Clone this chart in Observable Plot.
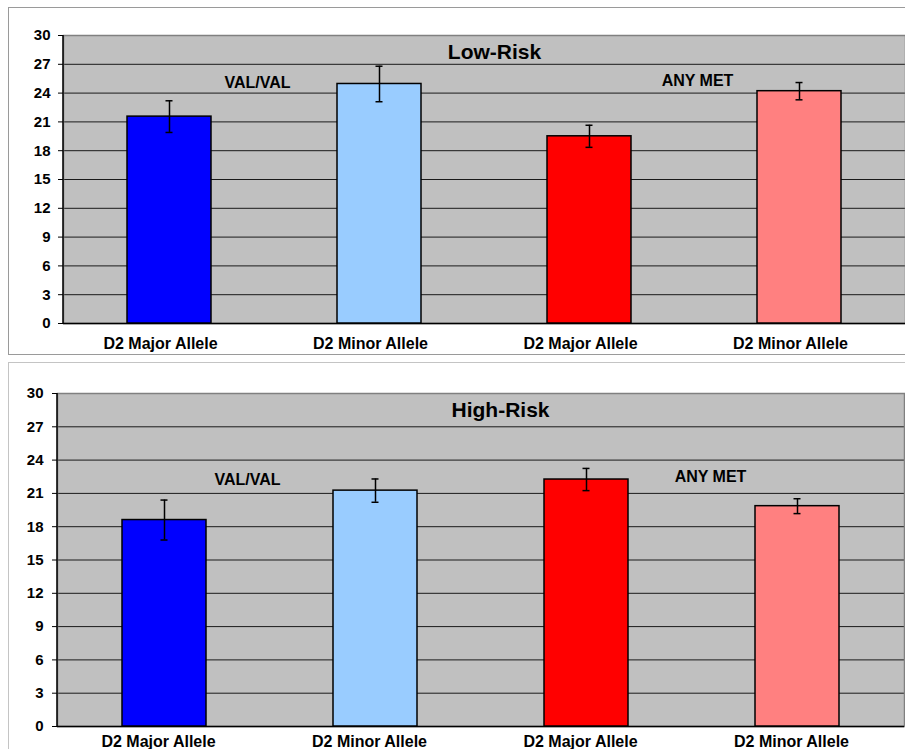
<!DOCTYPE html>
<html><head><meta charset="utf-8">
<script src="https://cdn.jsdelivr.net/npm/d3@7"></script>
<script src="https://cdn.jsdelivr.net/npm/@observablehq/plot@0.6"></script>
<style>
body{margin:0;background:#fff;}
#c{position:relative;width:905px;height:749px;overflow:hidden;background:#fff;font-family:"Liberation Sans",Arial,sans-serif;}
.fr{position:absolute;box-sizing:border-box;}
#f1{left:8px;top:7px;width:910px;height:348px;border:1px solid #9a9a9a;}
#f2{left:8px;top:362px;width:910px;height:400px;border:1px solid #c4c4c4;}
#p1,#p2{position:absolute;left:0;}
#p1{top:0px}
#p2{top:355px}
svg text{font-weight:bold;}
</style></head>
<body>
<div id="c">
  <div class="fr" id="f1"></div>
  <div class="fr" id="f2"></div>
  <div id="p1"></div>
  <div id="p2"></div>
</div>
<script>
// ---- data ----
const alleles = ["D2 Major Allele", "D2 Minor Allele", "D2 Major Allele", "D2 Minor Allele"];
const groups = ["VAL/VAL", "ANY MET"];
const barColors = ["#0000FF", "#99CCFF", "#FF0000", "#FF8080"];
const yTicks = [0, 3, 6, 9, 12, 15, 18, 21, 24, 27, 30];
const lowRiskValues = [21.55, 24.95, 19.5, 24.2];
const lowRiskErrors = [1.65, 1.85, 1.15, 0.9];
const highRiskValues = [18.6, 21.25, 22.25, 19.85];
const highRiskErrors = [1.8, 1.05, 1.0, 0.67];

const FONT = "Liberation Sans, Arial, sans-serif";

function panel(el, title, values, errs, o) {
  const data = values.map((v, i) => ({i, v, lo: v - errs[i], hi: v + errs[i], c: barColors[i]}));
  const plot = Plot.plot({
    width: 905, height: o.height,
    marginLeft: o.ml, marginRight: o.mr, marginTop: o.mt, marginBottom: o.mb,
    style: {background: "transparent", fontFamily: FONT, fontWeight: "bold", color: "#000", overflow: "visible"},
    x: {domain: d3.range(values.length), paddingInner: 0.6, paddingOuter: 0.3, axis: null},
    y: {domain: [0, 30], axis: null},
    color: {type: "identity"},
    marks: [
      Plot.frame({fill: "#c0c0c0"}),
      Plot.ruleY(yTicks.filter(t => t > 0 && t < 30), {stroke: "#1a1a1a", strokeWidth: 1}),
      Plot.frame({stroke: "#808080", strokeWidth: 1.5}),
      Plot.ruleY([0], {stroke: "#000", strokeWidth: 1.5}),
      Plot.barY(data, {x: "i", y: "v", fill: "c", stroke: "#000", strokeWidth: 1.5}),
      Plot.ruleX(data, {x: "i", y1: "lo", y2: "hi", stroke: "#000", strokeWidth: 1.5}),
      Plot.tickY(data, {x: "i", y: "lo", stroke: "#000", strokeWidth: 1.5, insetLeft: 38.5, insetRight: 38.5}),
      Plot.tickY(data, {x: "i", y: "hi", stroke: "#000", strokeWidth: 1.5, insetLeft: 38.5, insetRight: 38.5}),
      Plot.axisY({ticks: yTicks, tickFormat: () => "", tickSize: 5, label: null, stroke: "#000"}),
      Plot.text(yTicks, {y: d => d, text: d => String(d), frameAnchor: "left", textAnchor: "end", dx: -(5 + o.ytp), fontSize: 15, fontWeight: "bold", fill: "#000"}),
      Plot.axisX({tickFormat: i => alleles[i], tickSize: 0, tickPadding: o.xtp, label: null, fontSize: 16, fontWeight: "bold", dx: o.xdx}),
      Plot.text([title], {x: () => 1, y: () => o.titleY, dx: o.titleDx, text: d => d, fontSize: 21, fontWeight: "bold", lineAnchor: "bottom", fill: "#000"}),
      Plot.text([groups[0]], {x: () => 0, y: () => o.g0Y, dx: o.g0Dx, text: d => d, fontSize: 16, fontWeight: "bold", lineAnchor: "bottom", fill: "#000"}),
      Plot.text([groups[1]], {x: () => 2, y: () => o.g1Y, dx: o.g1Dx, text: d => d, fontSize: 16, fontWeight: "bold", lineAnchor: "bottom", fill: "#000"})
    ]
  });
  const xr = plot.scale("x").range, yr = plot.scale("y").range;
  d3.select(plot).append("line")
    .attr("x1", xr[0]).attr("x2", xr[0]).attr("y1", yr[0]).attr("y2", yr[1])
    .attr("stroke", "#000").attr("stroke-width", 1.5);
  document.getElementById(el).appendChild(plot);
}

panel("p1", "Low-Risk", lowRiskValues, lowRiskErrors, {
  height: 354, ml: 63, mr: 0, mt: 35, mb: 31, ytp: 8, xtp: 14, xdx: -9,
  titleY: 27.6, titleDx: 115, g0Y: 24.58, g0Dx: 88, g1Y: 24.69, g1Dx: 108
});
panel("p2", "High-Risk", highRiskValues, highRiskErrors, {
  height: 394, ml: 57, mr: 1, mt: 38, mb: 23, ytp: 9, xtp: 9, xdx: -6,
  titleY: 27.84, titleDx: 125, g0Y: 21.8, g0Dx: 83, g1Y: 22.07, g1Dx: 124
});
</script>
</body></html>
